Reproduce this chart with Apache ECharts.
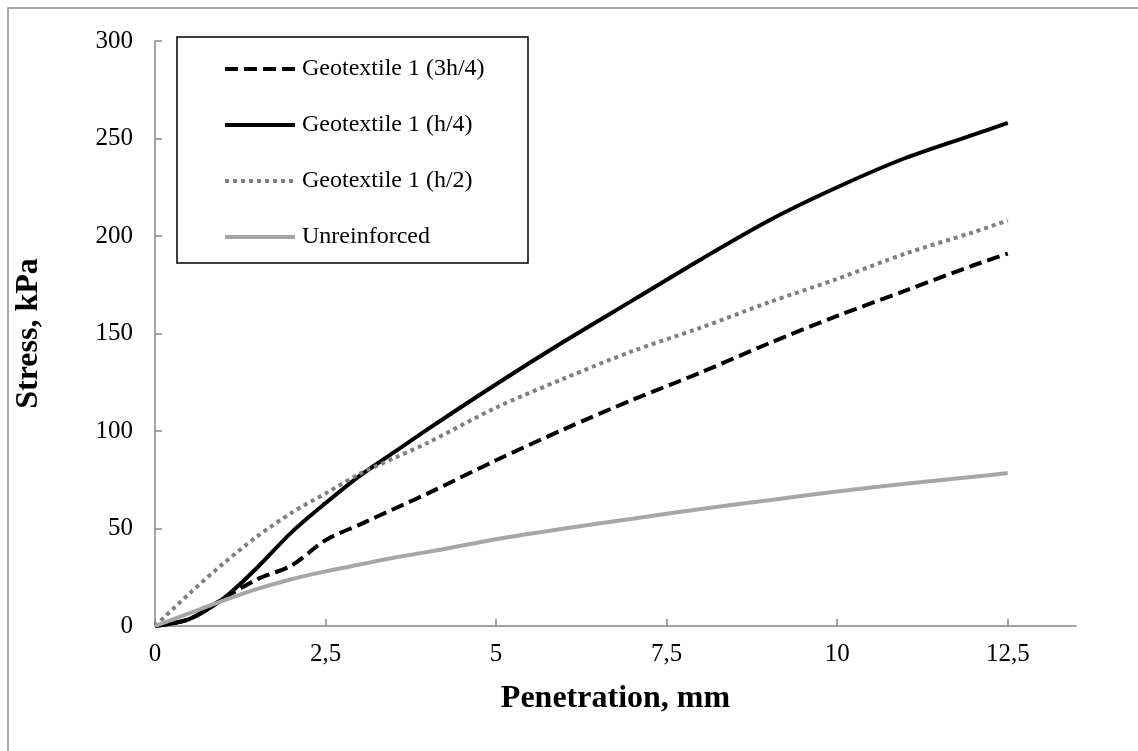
<!DOCTYPE html>
<html>
<head>
<meta charset="utf-8">
<script src="https://cdn.jsdelivr.net/npm/echarts@6/dist/echarts.min.js"></script>
<style>
  html, body { margin: 0; padding: 0; background: #fff; }
  #chart { width: 1138px; height: 751px; }
</style>
</head>
<body>
<div id="chart"></div>
<script>
// data
var penetration = [0, 0.5, 1, 1.5, 2, 2.5, 3, 3.5, 4, 5, 6, 7, 8, 9, 10, 11, 12, 12.5];
var geo3h4      = [0, 3.5, 14, 24, 31, 44, 52, 60, 68, 85, 101, 116, 130, 145, 159, 172, 185, 191];
var geoH4       = [0, 3.5, 14, 30, 48, 63, 77, 89, 101, 124, 146, 167, 188, 208, 225, 240, 252, 258];
var geoH2       = [0, 16.5, 32, 46, 58, 68, 78, 86, 94, 112, 127, 141, 153, 166, 178, 191, 202, 208];
var unreinf     = [0, 6.5, 13, 19, 24, 28, 31.5, 35, 38, 44.5, 50, 55, 60, 64.5, 69, 73, 76.5, 78.5];

var xTicks = [0, 2.5, 5, 7.5, 10, 12.5];
var yTicks = [0, 50, 100, 150, 200, 250, 300];

var names = ['Geotextile 1 (3h/4)', 'Geotextile 1 (h/4)', 'Geotextile 1 (h/2)', 'Unreinforced'];

function pairs(ys) {
    return penetration.map(function (x, i) { return [x, ys[i]]; });
}

var font = 'Liberation Serif, Times New Roman, serif';
var axisGray = '#868686';

var chart = echarts.init(document.getElementById('chart'));

function lineSeries(name, ys, color, dash) {
    return {
        name: name,
        type: 'line',
        data: pairs(ys),
        smooth: 0.3,
        symbol: 'none',
        itemStyle: { color: color },
        lineStyle: { color: color, width: 4, type: dash || 'solid' }
    };
}

var option = {
    animation: false,
    backgroundColor: '#fff',
    textStyle: { fontFamily: font },
    grid: { left: 155, top: 41, right: 62, bottom: 125, containLabel: false },
    graphic: [
        {
            type: 'rect',
            shape: { x: 8, y: 8, width: 1150, height: 770 },
            style: { fill: 'none', stroke: '#8c8c8c', lineWidth: 1.5 },
            silent: true
        },
        {
            type: 'rect',
            shape: { x: 177, y: 37, width: 351, height: 226 },
            style: { fill: '#fff', stroke: '#000', lineWidth: 1.5 },
            z: 10,
            silent: true
        }
    ],
    legend: {
        data: names,
        orient: 'vertical',
        left: 223,
        top: 55,
        padding: 0,
        itemWidth: 70,
        itemHeight: 14,
        itemGap: 28,
        z: 20,
        itemStyle: { opacity: 0 },
        lineStyle: { width: 4 },
        textStyle: { fontFamily: font, fontSize: 24, color: '#000', lineHeight: 28, padding: [0, 0, 0, 2] }
    },
    xAxis: {
        type: 'value',
        min: 0,
        max: 13.5,
        interval: 2.5,
        name: 'Penetration, mm',
        nameLocation: 'middle',
        nameGap: 57,
        nameTextStyle: { fontFamily: font, fontSize: 32, fontWeight: 'bold', color: '#000' },
        axisLine: { lineStyle: { color: axisGray, width: 1.5 } },
        axisTick: { inside: true, length: 7, customValues: xTicks, lineStyle: { color: axisGray, width: 1.5 } },
        axisLabel: {
            customValues: xTicks,
            margin: 16,
            fontFamily: font, fontSize: 25, color: '#000',
            formatter: function (v) { return String(v).replace('.', ','); }
        },
        splitLine: { show: false }
    },
    yAxis: {
        type: 'value',
        min: 0,
        max: 300,
        interval: 50,
        name: 'Stress, kPa',
        nameLocation: 'middle',
        nameGap: 110,
        nameTextStyle: { fontFamily: font, fontSize: 32, fontWeight: 'bold', color: '#000' },
        axisLine: { show: true, lineStyle: { color: axisGray, width: 1.5 } },
        axisTick: { show: true, inside: true, length: 7, customValues: yTicks, lineStyle: { color: axisGray, width: 1.5 } },
        axisLabel: { customValues: yTicks, margin: 22, fontFamily: font, fontSize: 25, color: '#000' },
        splitLine: { show: false }
    },
    series: [
        lineSeries(names[0], geo3h4, '#000', [13, 6]),
        lineSeries(names[1], geoH4, '#000'),
        lineSeries(names[2], geoH2, '#808080', [4, 4]),
        lineSeries(names[3], unreinf, '#a6a6a6')
    ]
};

chart.setOption(option);
</script>
</body>
</html>
